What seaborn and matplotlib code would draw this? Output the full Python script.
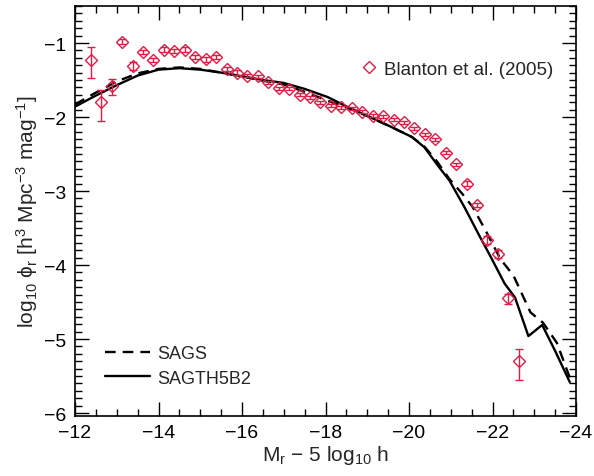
import numpy as np
import pandas as pd
import matplotlib
matplotlib.use("Agg")
import matplotlib.pyplot as plt
from matplotlib.lines import Line2D
from matplotlib.ticker import MultipleLocator
import seaborn as sns

# Blanton et al. (2005) points
blanton_mag = [-12.38, -12.63, -12.88, -13.13, -13.38, -13.63, -13.88, -14.13, -14.38, -14.63,
               -14.88, -15.13, -15.38, -15.63, -15.88, -16.13, -16.38, -16.63, -16.88, -17.13,
               -17.38, -17.63, -17.88, -18.13, -18.38, -18.63, -18.88, -19.13, -19.38, -19.63,
               -19.88, -20.13, -20.38, -20.63, -20.88, -21.13, -21.38, -21.63, -21.88, -22.13,
               -22.38, -22.63]
blanton_phi = [-1.23, -1.80, -1.58, -0.98, -1.31, -1.12, -1.23, -1.09, -1.11, -1.09,
               -1.19, -1.22, -1.19, -1.35, -1.40, -1.44, -1.45, -1.53, -1.61, -1.62,
               -1.70, -1.73, -1.80, -1.85, -1.87, -1.88, -1.93, -1.98, -1.99, -2.04,
               -2.07, -2.15, -2.23, -2.30, -2.48, -2.64, -2.90, -3.19, -3.66, -3.85,
               -4.45, -5.30]
err_lo = [0.24, 0.25, 0.12, 0.04, 0.06, 0.03, 0.03, 0.03, 0.03, 0.03,
          0.03, 0.03, 0.03, 0.03, 0.03, 0.02, 0.02, 0.02, 0.02, 0.02,
          0.02, 0.02, 0.02, 0.02, 0.02, 0.02, 0.02, 0.02, 0.02, 0.02,
          0.02, 0.02, 0.02, 0.02, 0.02, 0.02, 0.03, 0.03, 0.05, 0.05,
          0.07, 0.25]
err_hi = [0.18, 0.17, 0.09, 0.04, 0.05, 0.03, 0.03, 0.03, 0.03, 0.03,
          0.03, 0.03, 0.03, 0.03, 0.03, 0.02, 0.02, 0.02, 0.02, 0.02,
          0.02, 0.02, 0.02, 0.02, 0.02, 0.02, 0.02, 0.02, 0.02, 0.02,
          0.02, 0.02, 0.02, 0.02, 0.02, 0.02, 0.03, 0.03, 0.05, 0.05,
          0.06, 0.16]

# SAGS model (dashed)
sags_mag = [-12.0, -12.5, -13.0, -13.5, -14.0, -14.5, -15.0, -15.5, -16.0, -16.5,
            -17.0, -17.5, -18.05, -18.55, -19.06, -19.56, -20.07, -20.37, -20.67, -20.97,
            -21.28, -21.53, -21.86, -22.19, -22.5, -22.91, -23.21, -23.54, -23.85]
sags_phi = [-1.83, -1.67, -1.52, -1.41, -1.35, -1.33, -1.35, -1.40, -1.45, -1.51,
            -1.56, -1.66, -1.78, -1.88, -2.00, -2.13, -2.27, -2.40, -2.60, -2.84,
            -3.04, -3.22, -3.56, -3.92, -4.14, -4.64, -4.78, -5.05, -5.52]

# SAGTH5B2 model (solid)
th_mag = [-12.0, -12.5, -13.0, -13.5, -14.0, -14.5, -15.0, -15.5, -16.0, -16.5,
          -17.0, -17.5, -18.05, -18.55, -19.06, -19.56, -20.07, -20.37, -20.67, -20.97,
          -21.33, -21.7, -21.93, -22.29, -22.54, -22.86, -23.19, -23.5, -23.85]
th_phi = [-1.86, -1.71, -1.57, -1.44, -1.36, -1.34, -1.36, -1.40, -1.45, -1.50,
          -1.54, -1.62, -1.73, -1.87, -2.00, -2.13, -2.27, -2.41, -2.64, -2.86,
          -3.22, -3.62, -3.86, -4.25, -4.44, -4.96, -4.81, -5.16, -5.58]

red = "#dc1e46"

sns.set_style("ticks")
plt.rcParams["font.family"] = ["Liberation Sans", "DejaVu Sans"]
plt.rcParams["mathtext.fontset"] = "custom"
plt.rcParams["mathtext.rm"] = "Liberation Sans"
plt.rcParams["mathtext.it"] = "Liberation Sans"

fig = plt.figure(figsize=(5.94, 4.77), dpi=100)
ax = fig.add_axes([75 / 594, 60 / 477, 501 / 594, 410 / 477])

sags = pd.DataFrame({"mag": sags_mag, "phi": sags_phi})
th = pd.DataFrame({"mag": th_mag, "phi": th_phi})
sns.lineplot(data=sags, x="mag", y="phi", ax=ax, color="black", lw=1.7,
             linestyle=(0, (4.5, 3)), sort=False)
sns.lineplot(data=th, x="mag", y="phi", ax=ax, color="black", lw=1.7, sort=False)

ax.errorbar(blanton_mag, blanton_phi, yerr=[err_lo, err_hi], fmt="none",
            ecolor=red, elinewidth=1, capsize=3, capthick=1)
ax.plot(blanton_mag, blanton_phi, "D", ms=6.5, mfc="none", mec=red, mew=1.0)

ax.set_xlim(-12, -24)
ax.set_ylim(-6.04, -0.5)
ax.xaxis.set_major_locator(MultipleLocator(2))
ax.xaxis.set_minor_locator(MultipleLocator(0.5))
ax.yaxis.set_major_locator(MultipleLocator(1))
ax.yaxis.set_minor_locator(MultipleLocator(0.1))
ax.tick_params(which="both", direction="in", top=True, right=True, width=1,
               labelsize=14, colors="black")
ax.tick_params(which="major", length=10, pad=6)
ax.tick_params(which="minor", length=5)
for s in ax.spines.values():
    s.set_linewidth(1.2)
    s.set_color("black")

ax.set_xlabel(r"M$_{\rm r}$ $-$ 5 log$_{10}$ h", fontsize=15, labelpad=1)
ax.set_ylabel(r"log$_{10}$ $\phi_{\rm r}$ [h$^{3}$ Mpc$^{-3}$ mag$^{-1}$]", fontsize=15, labelpad=3)

h_obs = Line2D([], [], marker="D", ms=6.5, mfc="none", mec=red, mew=1.0, linestyle="none")
leg1 = ax.legend([h_obs], ["Blanton et al. (2005)"], loc="center right",
                 bbox_to_anchor=(0.955, 0.846), frameon=False, fontsize=13.5,
                 handlelength=1, handletextpad=0.3, borderpad=0, borderaxespad=0)
ax.add_artist(leg1)

h_sags = Line2D([], [], color="black", lw=1.7, linestyle=(0, (4.5, 3)))
h_th = Line2D([], [], color="black", lw=1.7)
ax.legend([h_sags, h_th], ["SAGS", "SAGTH5B2"], loc="center left",
          bbox_to_anchor=(0.06, 0.122), frameon=False, fontsize=13,
          handlelength=2.5, handletextpad=0.4, borderpad=0, borderaxespad=0,
          labelspacing=0.4)

fig.savefig("out.png", dpi=100)
